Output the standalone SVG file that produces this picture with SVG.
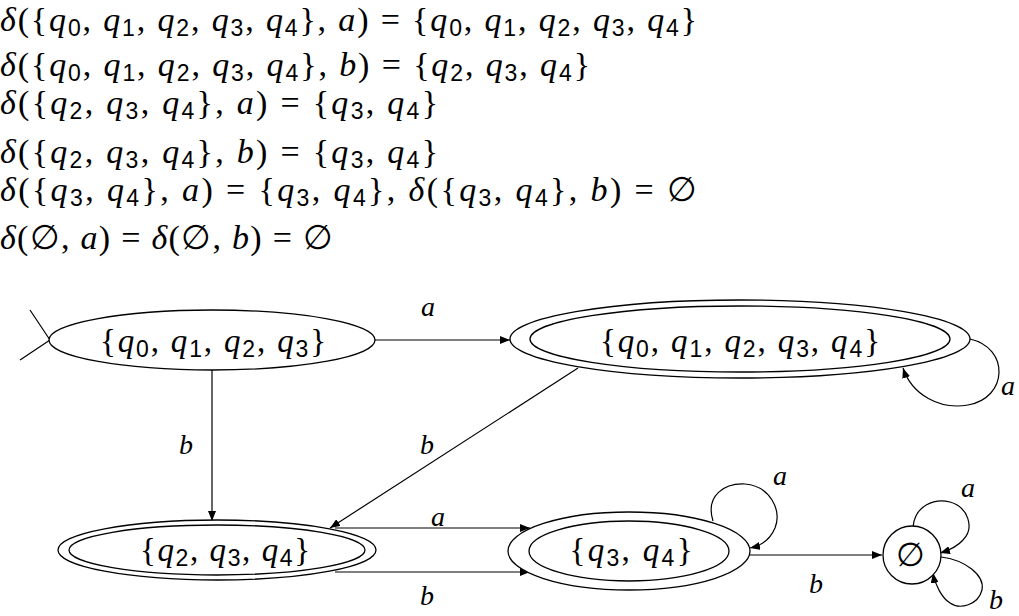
<svg xmlns="http://www.w3.org/2000/svg" width="1019" height="616" viewBox="0 0 1019 616">
<defs>
<style>
.m{font-family:"Liberation Serif","DejaVu Serif",serif;font-size:34px;fill:#000}
.n{font-family:"Liberation Serif","DejaVu Serif",serif;font-size:33px;fill:#000}
.i{font-style:italic}
.s{font-family:"Liberation Sans","DejaVu Sans",sans-serif;font-size:23px}
.e{font-family:"Liberation Serif","DejaVu Serif",serif;font-style:normal}
.lb{font-family:"Liberation Serif","DejaVu Serif",serif;font-size:28px;font-style:italic;fill:#000}
.nd{fill:#fff;stroke:#000;stroke-width:1.3}
.c{fill:none;stroke:#000;stroke-width:1.2}
</style>
<marker id="ah" viewBox="0 0 10 8" refX="10" refY="4" markerWidth="10" markerHeight="8" orient="auto" markerUnits="userSpaceOnUse"><path d="M0,0 L10,4 L0,8 z" fill="#000"/></marker>
</defs>
<rect width="1019" height="616" fill="#fff"/>
<g id="formulas">
<text class="m" x="0" y="31" textLength="697" lengthAdjust="spacing"><tspan class="i">δ</tspan>({<tspan class="i">q</tspan><tspan class="s" dy="5">0</tspan><tspan dy="-5">, </tspan><tspan class="i">q</tspan><tspan class="s" dy="5">1</tspan><tspan dy="-5">, </tspan><tspan class="i">q</tspan><tspan class="s" dy="5">2</tspan><tspan dy="-5">, </tspan><tspan class="i">q</tspan><tspan class="s" dy="5">3</tspan><tspan dy="-5">, </tspan><tspan class="i">q</tspan><tspan class="s" dy="5">4</tspan><tspan dy="-5">}, </tspan><tspan class="i">a</tspan>) = {<tspan class="i">q</tspan><tspan class="s" dy="5">0</tspan><tspan dy="-5">, </tspan><tspan class="i">q</tspan><tspan class="s" dy="5">1</tspan><tspan dy="-5">, </tspan><tspan class="i">q</tspan><tspan class="s" dy="5">2</tspan><tspan dy="-5">, </tspan><tspan class="i">q</tspan><tspan class="s" dy="5">3</tspan><tspan dy="-5">, </tspan><tspan class="i">q</tspan><tspan class="s" dy="5">4</tspan><tspan dy="-5">}</tspan></text>
<text class="m" x="0" y="76" textLength="590" lengthAdjust="spacing"><tspan class="i">δ</tspan>({<tspan class="i">q</tspan><tspan class="s" dy="5">0</tspan><tspan dy="-5">, </tspan><tspan class="i">q</tspan><tspan class="s" dy="5">1</tspan><tspan dy="-5">, </tspan><tspan class="i">q</tspan><tspan class="s" dy="5">2</tspan><tspan dy="-5">, </tspan><tspan class="i">q</tspan><tspan class="s" dy="5">3</tspan><tspan dy="-5">, </tspan><tspan class="i">q</tspan><tspan class="s" dy="5">4</tspan><tspan dy="-5">}, </tspan><tspan class="i">b</tspan>) = {<tspan class="i">q</tspan><tspan class="s" dy="5">2</tspan><tspan dy="-5">, </tspan><tspan class="i">q</tspan><tspan class="s" dy="5">3</tspan><tspan dy="-5">, </tspan><tspan class="i">q</tspan><tspan class="s" dy="5">4</tspan><tspan dy="-5">}</tspan></text>
<text class="m" x="0" y="114" textLength="438" lengthAdjust="spacing"><tspan class="i">δ</tspan>({<tspan class="i">q</tspan><tspan class="s" dy="5">2</tspan><tspan dy="-5">, </tspan><tspan class="i">q</tspan><tspan class="s" dy="5">3</tspan><tspan dy="-5">, </tspan><tspan class="i">q</tspan><tspan class="s" dy="5">4</tspan><tspan dy="-5">}, </tspan><tspan class="i">a</tspan>) = {<tspan class="i">q</tspan><tspan class="s" dy="5">3</tspan><tspan dy="-5">, </tspan><tspan class="i">q</tspan><tspan class="s" dy="5">4</tspan><tspan dy="-5">}</tspan></text>
<text class="m" x="0" y="163" textLength="438" lengthAdjust="spacing"><tspan class="i">δ</tspan>({<tspan class="i">q</tspan><tspan class="s" dy="5">2</tspan><tspan dy="-5">, </tspan><tspan class="i">q</tspan><tspan class="s" dy="5">3</tspan><tspan dy="-5">, </tspan><tspan class="i">q</tspan><tspan class="s" dy="5">4</tspan><tspan dy="-5">}, </tspan><tspan class="i">b</tspan>) = {<tspan class="i">q</tspan><tspan class="s" dy="5">3</tspan><tspan dy="-5">, </tspan><tspan class="i">q</tspan><tspan class="s" dy="5">4</tspan><tspan dy="-5">}</tspan></text>
<text class="m" x="0" y="201" textLength="697" lengthAdjust="spacing"><tspan class="i">δ</tspan>({<tspan class="i">q</tspan><tspan class="s" dy="5">3</tspan><tspan dy="-5">, </tspan><tspan class="i">q</tspan><tspan class="s" dy="5">4</tspan><tspan dy="-5">}, </tspan><tspan class="i">a</tspan>) = {<tspan class="i">q</tspan><tspan class="s" dy="5">3</tspan><tspan dy="-5">, </tspan><tspan class="i">q</tspan><tspan class="s" dy="5">4</tspan><tspan dy="-5">}, </tspan><tspan class="i">δ</tspan>({<tspan class="i">q</tspan><tspan class="s" dy="5">3</tspan><tspan dy="-5">, </tspan><tspan class="i">q</tspan><tspan class="s" dy="5">4</tspan><tspan dy="-5">}, </tspan><tspan class="i">b</tspan>) = <tspan class="e">∅</tspan></text>
<text class="m" x="0" y="249" textLength="333" lengthAdjust="spacing"><tspan class="i">δ</tspan>(<tspan class="e">∅</tspan>, <tspan class="i">a</tspan>) = <tspan class="i">δ</tspan>(<tspan class="e">∅</tspan>, <tspan class="i">b</tspan>) = <tspan class="e">∅</tspan></text>
</g>
<g id="connectors">
<path class="c" d="M30,310 L50,340 M20,360 L50,340"/>
<path class="c" d="M375,340 L510,340" marker-end="url(#ah)"/>
<path class="c" d="M212,370 L212,521" marker-end="url(#ah)"/>
<path class="c" d="M578,368 L330,528" marker-end="url(#ah)"/>
<path class="c" d="M970,339 C1010,348 1008,398 968,405 C940,410 912,395 903,368" marker-end="url(#ah)"/>
<path class="c" d="M335,528 L530,528" marker-end="url(#ah)"/>
<path class="c" d="M335,572 L530,572" marker-end="url(#ah)"/>
<path class="c" d="M713,521 C705,495 725,483 745,484 C770,486 782,510 775,528 C770,540 760,546 750,548" marker-end="url(#ah)"/>
<path class="c" d="M750,555 L882,555" marker-end="url(#ah)"/>
<path class="c" d="M913,527 C915,505 935,498 950,502 C968,507 975,528 963,540 C957,547 950,550 940,553" marker-end="url(#ah)"/>
<path class="c" d="M941,557 C965,560 985,575 982,590 C978,605 960,610 950,603 C942,598 935,585 933,573" marker-end="url(#ah)"/>
<text class="lb" x="428" y="316" text-anchor="middle">a</text>
<text class="lb" x="186" y="454" text-anchor="middle">b</text>
<text class="lb" x="427" y="454" text-anchor="middle">b</text>
<text class="lb" x="1008" y="395" text-anchor="middle">a</text>
<text class="lb" x="438" y="526" text-anchor="middle">a</text>
<text class="lb" x="427" y="605" text-anchor="middle">b</text>
<text class="lb" x="780" y="485" text-anchor="middle">a</text>
<text class="lb" x="816" y="593" text-anchor="middle">b</text>
<text class="lb" x="968" y="497" text-anchor="middle">a</text>
<text class="lb" x="996" y="609" text-anchor="middle">b</text>
</g>
<g id="nodeA">
<ellipse class="nd" cx="212" cy="340" rx="163" ry="30"/>
<text class="n" x="213" y="352" text-anchor="middle" textLength="226" lengthAdjust="spacing">{<tspan class="i">q</tspan><tspan class="s" dy="5">0</tspan><tspan dy="-5">, </tspan><tspan class="i">q</tspan><tspan class="s" dy="5">1</tspan><tspan dy="-5">, </tspan><tspan class="i">q</tspan><tspan class="s" dy="5">2</tspan><tspan dy="-5">, </tspan><tspan class="i">q</tspan><tspan class="s" dy="5">3</tspan><tspan dy="-5">}</tspan></text>
</g>
<g id="nodeB">
<ellipse class="nd" cx="740" cy="339" rx="230" ry="39"/>
<ellipse class="nd" cx="740" cy="339" rx="210" ry="33"/>
<text class="n" x="740" y="352" text-anchor="middle" textLength="280" lengthAdjust="spacing">{<tspan class="i">q</tspan><tspan class="s" dy="5">0</tspan><tspan dy="-5">, </tspan><tspan class="i">q</tspan><tspan class="s" dy="5">1</tspan><tspan dy="-5">, </tspan><tspan class="i">q</tspan><tspan class="s" dy="5">2</tspan><tspan dy="-5">, </tspan><tspan class="i">q</tspan><tspan class="s" dy="5">3</tspan><tspan dy="-5">, </tspan><tspan class="i">q</tspan><tspan class="s" dy="5">4</tspan><tspan dy="-5">}</tspan></text>
</g>
<g id="nodeC">
<ellipse class="nd" cx="217" cy="550" rx="159" ry="30"/>
<ellipse class="nd" cx="217" cy="550" rx="148" ry="25"/>
<text class="n" x="225" y="561" text-anchor="middle" textLength="170" lengthAdjust="spacing">{<tspan class="i">q</tspan><tspan class="s" dy="5">2</tspan><tspan dy="-5">, </tspan><tspan class="i">q</tspan><tspan class="s" dy="5">3</tspan><tspan dy="-5">, </tspan><tspan class="i">q</tspan><tspan class="s" dy="5">4</tspan><tspan dy="-5">}</tspan></text>
</g>
<g id="nodeD">
<ellipse class="nd" cx="629" cy="551" rx="121" ry="39"/>
<ellipse class="nd" cx="629" cy="551" rx="100" ry="30"/>
<text class="n" x="631" y="561" text-anchor="middle" textLength="123" lengthAdjust="spacing">{<tspan class="i">q</tspan><tspan class="s" dy="5">3</tspan><tspan dy="-5">, </tspan><tspan class="i">q</tspan><tspan class="s" dy="5">4</tspan><tspan dy="-5">}</tspan></text>
</g>
<g id="nodeE">
<circle class="nd" cx="912" cy="555" r="29"/>
<text class="n e" x="910" y="566" text-anchor="middle">∅</text>
</g>
</svg>
